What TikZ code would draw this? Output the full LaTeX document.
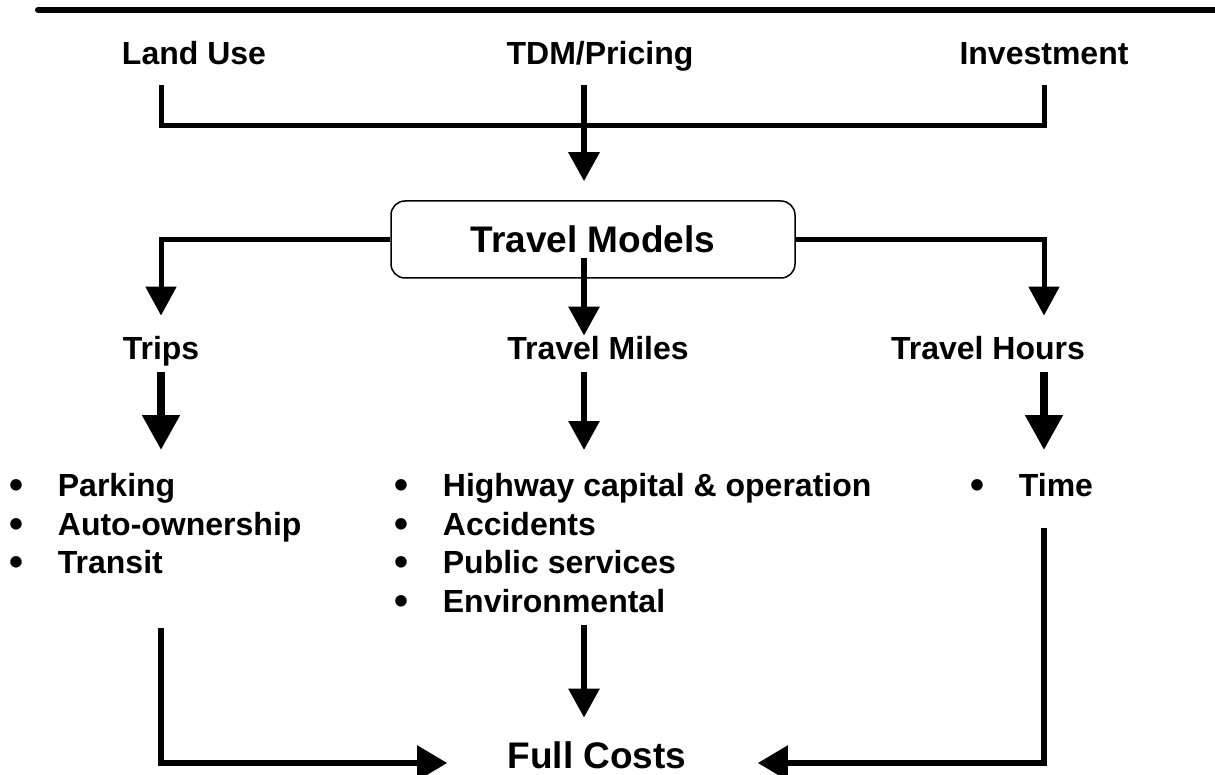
\documentclass[tikz,border=0pt]{standalone}
\usepackage{fontspec}
\setmainfont{Liberation Sans}
\usetikzlibrary{arrows.meta}
\newcommand{\bul}{\makebox[24pt][l]{\raisebox{-1.2pt}{\fontsize{20}{20}\selectfont\textbullet}}}

\begin{document}
\begin{tikzpicture}[x=0.5pt, y=-0.5pt,
  lbl/.style={font=\fontsize{16}{19.25}\selectfont\bfseries, inner sep=0pt, text height=11.5pt, text depth=0pt},
  big/.style={font=\fontsize{18.5}{22}\selectfont\bfseries, inner sep=0pt},
  list/.style={font=\fontsize{16}{19.25}\selectfont\bfseries, inner sep=0pt, align=left, anchor=north west},
  conn/.style={line width=2.5pt},
  arr/.style={conn, -{Triangle[width=15pt,length=14.5pt]}},
  thkarr/.style={line width=4pt, -{Triangle[width=18pt,length=17.5pt]}},
  sidearr/.style={line width=2.75pt, -{Triangle[width=17pt,length=15pt]}}]
	\useasboundingbox (0,0) rectangle (1215,775);
	\draw[line width=3pt, line cap=round] (38,10) -- (1215,10);
	
	\coordinate (colL) at (161,0);
	\coordinate (colC) at (584,0);
	\coordinate (colR) at (1044,0);
	
	\node (landuse) [lbl] at (194,53.5) {Land Use};
	\node (tdm) [lbl] at (600,53.5) {TDM/Pricing};
	\node (invest) [lbl] at (1044,53.5) {Investment};
	\node (models) [big, draw, line width=0.75pt, rounded corners=7pt, minimum width=202pt, minimum height=38.5pt] at (593,239.5) {Travel Models};
	\node (trips) [lbl] at (161,347.5) {Trips};
	\node (miles) [lbl] at (598,347.5) {Travel Miles};
	\node (hours) [lbl] at (988,347.5) {Travel Hours};
	\node (tripslist) [list] at (9.5,473) {\bul Parking\\\bul Auto-ownership\\\bul Transit};
	\node (mileslist) [list] at (394.5,473) {\bul Highway capital \& operation\\\bul Accidents\\\bul Public services\\\bul Environmental};
	\node (hourslist) [list] at (970.5,473) {\bul Time};
	\node (costs) [big, text height=12.5pt, text depth=7.5pt] at (597,763) {Full Costs};
	
	\draw[conn, shorten <=10pt, shorten >=10pt] (landuse.south -| colL) |- ([yshift=-30pt]tdm.south -| colC) -| (invest.south -| colR);
	\draw[arr, line width=3pt, shorten <=10pt, shorten >=9.5pt] (tdm.south -| colC) -- (models.north -| colC);
	\draw[arr, shorten >=10pt] (models.west) -| (trips.north);
	\draw[arr, line width=3pt] ([yshift=10.5pt]models.south -| colC) -- (miles.north -| colC);
	\draw[arr, shorten >=10pt] (models.east) -| (hours.north -| colR);
	
	\draw[thkarr, shorten <=6.5pt, shorten >=11.5pt] (trips.south) -- (trips.south |- tripslist.north);
	\draw[arr, line width=3pt, shorten <=6.5pt, shorten >=11.5pt] (miles.south -| colC) -- (mileslist.north -| colC);
	\draw[thkarr, shorten <=6.5pt, shorten >=11.5pt] (hours.south -| colR) -- (hourslist.north -| colR);
	
	\draw[sidearr, shorten <=26pt, shorten >=30pt] (tripslist.south -| colL) |- (costs.west);
	\draw[arr, line width=3pt, shorten <=5.25pt, shorten >=12.5pt] (mileslist.south -| colC) -- (costs.north -| colC);
	\draw[sidearr, shorten <=14.5pt, shorten >=35.5pt] (hourslist.south -| colR) |- (costs.east);
\end{tikzpicture}
\end{document}
